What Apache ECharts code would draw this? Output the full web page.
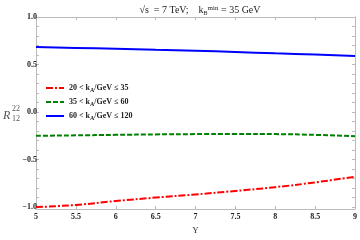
<!DOCTYPE html>
<html>
<head>
<meta charset="utf-8">
<script src="https://cdn.jsdelivr.net/npm/echarts@6/dist/echarts.min.js"></script>
<style>
  html, body { margin: 0; padding: 0; background: #fff; }
  #chart { width: 360px; height: 240px; }
</style>
</head>
<body>
<div id="chart"></div>
<script>
const rapidity = [5, 5.5, 6, 6.5, 7, 7.5, 8, 8.5, 9];
const bin20to35 = [-1.0, -0.977, -0.936, -0.90, -0.867, -0.83, -0.79, -0.74, -0.68];
const bin35to60 = [-0.25, -0.245, -0.24, -0.235, -0.232, -0.23, -0.232, -0.24, -0.255];
const bin60to120 = [0.685, 0.675, 0.665, 0.655, 0.645, 0.632, 0.618, 0.605, 0.59];
const xTicks = [5, 5.5, 6, 6.5, 7, 7.5, 8, 8.5, 9];
const yTicks = [-1.0, -0.5, 0.0, 0.5, 1.0];
const yMinor = [];
for (let i = -10; i <= 10; i++) yMinor.push(i / 10);

const serif = '"Liberation Serif", "DejaVu Serif", serif';
const pairs = (ys) => rapidity.map((x, i) => [x, ys[i]]);
const legendRich = { sub: { fontSize: 6, verticalAlign: 'bottom', padding: [4, 0, 0, 0], fontFamily: serif, fontWeight: 'bold', color: '#222' } };

const chart = echarts.init(document.getElementById('chart'));

const frameLine = { show: true, onZero: false, lineStyle: { color: '#bbb', width: 1 } };

chart.setOption({
  animation: false,
  textStyle: { fontFamily: serif },
  title: {
    text: '√s  = 7 TeV;    k{sub|B}{sup|min} = 35 GeV',
    left: 195, top: 0, textAlign: 'center',
    textStyle: {
      fontFamily: serif, fontSize: 10, fontWeight: 'normal', color: '#222',
      rich: {
        sub: { fontSize: 6, verticalAlign: 'bottom', padding: [5, 0, 0, 0], fontFamily: serif, color: '#222' },
        sup: { fontSize: 7, verticalAlign: 'top', padding: [0, 0, 4, 0], fontFamily: serif, color: '#222' }
      }
    }
  },
  grid: { left: 36, right: 2, top: 17, bottom: 26 },
  legend: {
    orient: 'vertical', left: 40, top: 79, itemGap: 5, itemWidth: 18, itemHeight: 9,
    itemStyle: { opacity: 0 },
    textStyle: { fontFamily: serif, fontSize: 8, fontWeight: 'bold', color: '#222', rich: legendRich },
    formatter: (n) => n
  },
  xAxis: [{
    type: 'value', min: 5, max: 9, interval: 0.5,
    name: 'Y', nameLocation: 'middle', nameGap: 17,
    nameTextStyle: { fontFamily: serif, fontSize: 9, color: '#333' },
    axisLine: frameLine,
    axisTick: { show: true, inside: true, length: 3, lineStyle: { color: '#bbb' } },
    axisLabel: { fontFamily: serif, fontSize: 8, fontWeight: 'bold', color: '#222', margin: 4,
      customValues: xTicks, formatter: (v) => String(v) },
    splitLine: { show: false }
  }, {
    type: 'value', min: 5, max: 9, interval: 0.5, position: 'top',
    axisLine: frameLine,
    axisTick: { show: true, inside: true, length: 3, lineStyle: { color: '#bbb' } },
    axisLabel: { show: false }, splitLine: { show: false }
  }],
  yAxis: [{
    type: 'value', min: -1.02, max: 1.0,
    axisLine: frameLine,
    axisTick: { show: true, inside: true, length: 3, customValues: yMinor, lineStyle: { color: '#bbb' } },
    axisLabel: { fontFamily: serif, fontSize: 8, fontWeight: 'bold', color: '#222', margin: -1,
      customValues: yTicks, formatter: (v) => (v < 0 ? '\u2212' : '') + Math.abs(v).toFixed(1) },
    splitLine: { show: false }
  }, {
    type: 'value', min: -1.02, max: 1.0, position: 'right',
    axisLine: frameLine,
    axisTick: { show: true, inside: true, length: 3, customValues: yMinor, lineStyle: { color: '#bbb' } },
    axisLabel: { show: false }, splitLine: { show: false }
  }],
  graphic: [
    { type: 'text', left: 3, top: 110, style: { text: 'R', font: 'italic 12px ' + serif, fill: '#555' } },
    { type: 'text', left: 12, top: 105, style: { text: '22', font: '8px ' + serif, fill: '#555' } },
    { type: 'text', left: 12, top: 115, style: { text: '12', font: '8px ' + serif, fill: '#555' } }
  ],
  series: [{
    name: '20 < k{sub|A}/GeV ≤ 35', type: 'line', smooth: true, showSymbol: false, symbol: 'none',
    data: pairs(bin20to35), color: '#ff0000',
    lineStyle: { color: '#ff0000', width: 2, type: [7, 2, 2, 2] }
  }, {
    name: '35 < k{sub|A}/GeV ≤ 60', type: 'line', smooth: true, showSymbol: false, symbol: 'none',
    data: pairs(bin35to60), color: '#008000',
    lineStyle: { color: '#008000', width: 2, type: [5, 2] }
  }, {
    name: '60 < k{sub|A}/GeV ≤ 120', type: 'line', smooth: true, showSymbol: false, symbol: 'none',
    data: pairs(bin60to120), color: '#0000ff',
    lineStyle: { color: '#0000ff', width: 2 }
  }]
});
</script>
</body>
</html>
